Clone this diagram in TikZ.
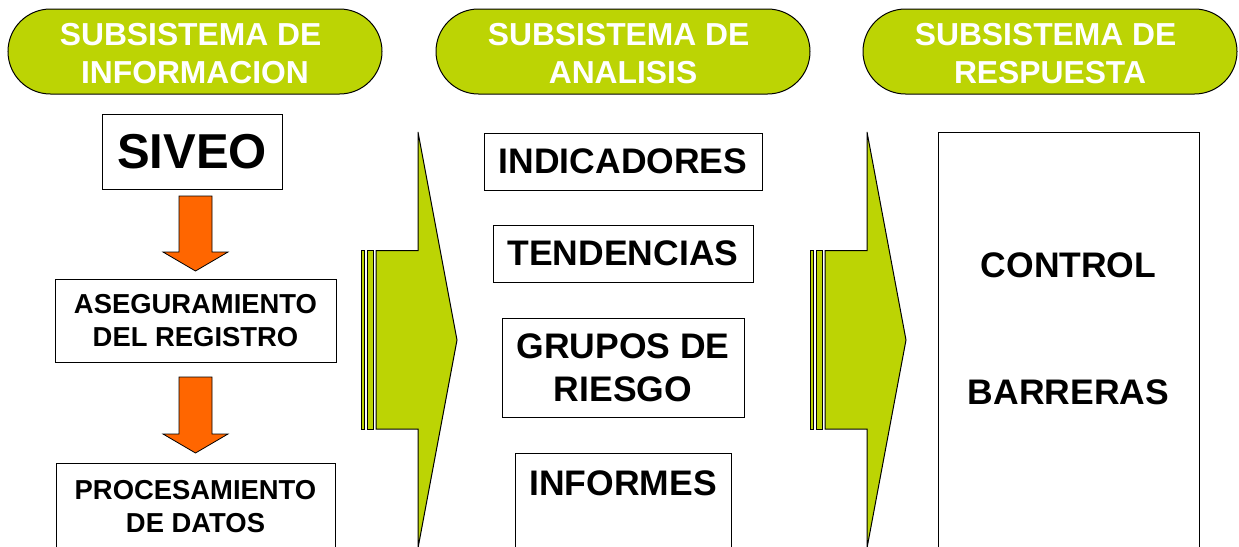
\documentclass[tikz,border=0pt]{standalone}
\usepackage{fontspec}
\setmainfont{Liberation Sans}
\usetikzlibrary{calc}
\definecolor{pillgreen}{RGB}{188,212,4}
\definecolor{arroworange}{RGB}{255,102,0}
\tikzset{
  pill/.style={draw=black, line width=1pt, fill=pillgreen, rounded corners=42.5pt,
    minimum width=374pt, minimum height=85pt, inner sep=0pt},
  pilltext/.style={text=white, align=center, inner sep=0pt,
    font=\bfseries\fontsize{31.8}{38}\selectfont},
  box/.style={draw=black, line width=1pt, fill=white, align=center, inner sep=0pt,
    font=\bfseries\fontsize{35.5}{43}\selectfont},
  smallbox/.style={box, font=\bfseries\fontsize{27.4}{33}\selectfont},
  boxtext/.style={inner sep=0pt, font=\bfseries\fontsize{35.5}{43}\selectfont},
  bigarrow/.style={draw=black, line width=1pt, fill=pillgreen},
  oarrow/.style={draw=black, line width=0.8pt, fill=arroworange}
}
\newcommand\trail{\rule{8.8pt}{0pt}}
\newcommand\blockdown[2]{%
  \draw[oarrow] ($(#1)+(-16.5,0)$) -- ($(#1)+(16.5,0)$) -- ($(#2)+(16.5,-19)$)
    -- ($(#2)+(32.5,-19)$) -- (#2) -- ($(#2)+(-32.5,-19)$) -- ($(#2)+(-16.5,-19)$) -- cycle;}
\newcommand\bigflow[1]{%
  \begin{scope}[xshift=#1]
    \draw[bigarrow] (361,250.5) rectangle (364,429);
    \draw[bigarrow] (367,250.5) rectangle (373,429);
    \draw[bigarrow] (376,250.5) -- (418,250.5) -- (418,132) -- (457,340)
      -- (418,548) -- (418,429) -- (376,429) -- cycle;
  \end{scope}}
\begin{document}
\begin{tikzpicture}[x=1pt, y=-1pt]
\useasboundingbox (0,0) rectangle (1239,546);
\clip (0,0) rectangle (1239,546);

% headers
\node[pill] (h1) at (195,51.5) {};
\node[pill] (h2) at (623,51.5) {};
\node[pill] (h3) at (1050,51.5) {};
\node[pilltext] (h1t) at (195,53.5) {SUBSISTEMA DE\trail\\INFORMACION};
\node[pilltext] (h2t) at (623,53.5) {SUBSISTEMA DE\trail\\ANALISIS};
\node[pilltext] (h3t) at (1050,53.5) {SUBSISTEMA DE\trail\\RESPUESTA};

% left column
\node[box, minimum width=180pt, minimum height=75pt,
      font=\bfseries\fontsize{49}{58}\selectfont] (siveo) at (192,151.5) {SIVEO};
\node[smallbox, minimum width=281pt, minimum height=83pt] (aseg) at (195.5,320.5)
  {ASEGURAMIENTO\\DEL REGISTRO};
\node[smallbox, minimum width=279pt, minimum height=86pt, anchor=north] (proc) at (195.5,463)
  {PROCESAMIENTO\\DE DATOS};

\coordinate (a1s) at (195.5,196);
\coordinate (a1e) at (195.5,271);
\coordinate (a2s) at (195.5,377);
\coordinate (a2e) at (195.5,453);
\blockdown{a1s}{a1e}
\blockdown{a2s}{a2e}

% big arrows
\bigflow{0pt}
\bigflow{449pt}

% middle column
\node[box, minimum width=278pt, minimum height=57pt] (ind) at (623,161.5) {INDICADORES};
\node[box, minimum width=260pt, minimum height=57pt] (ten) at (623,253.5) {TENDENCIAS};
\node[box, minimum width=242pt, minimum height=99pt] (gru) at (623,367.5) {GRUPOS DE\\RIESGO};
\node[box, minimum width=216pt, minimum height=130pt, anchor=north] (infbox) at (623,453) {};
\node[boxtext, anchor=base] (inf) at (623,495) {INFORMES};

% right column
\node[box, minimum width=261pt, minimum height=460pt, anchor=north] (resp) at (1068.5,132) {};
\node[boxtext, anchor=base] (control) at (1068.5,277) {CONTROL};
\node[boxtext, anchor=base] (barreras) at (1068.5,404) {BARRERAS};
\end{tikzpicture}
\end{document}
